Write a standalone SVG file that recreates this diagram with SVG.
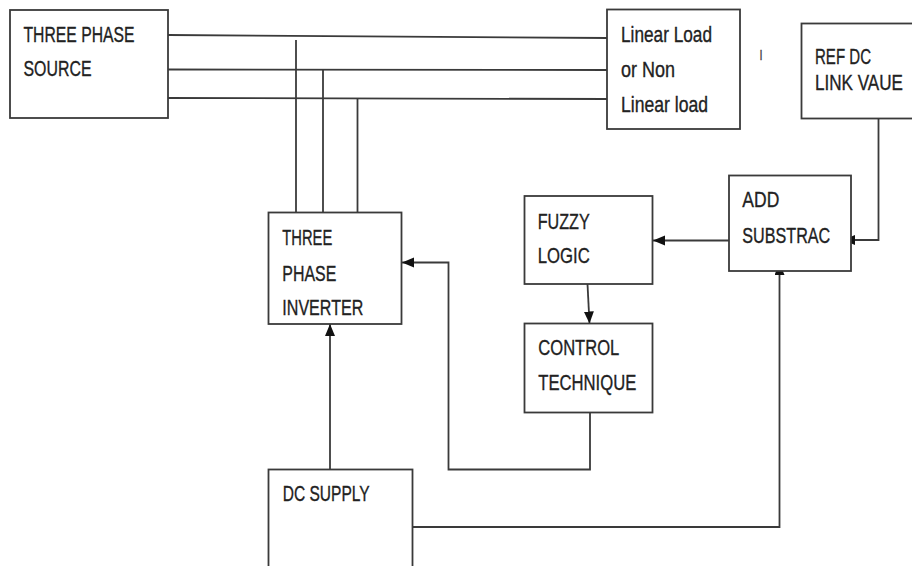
<svg xmlns="http://www.w3.org/2000/svg" width="912" height="566" viewBox="0 0 912 566">
<style>
.box{fill:#fff;stroke:#3a3a3a;stroke-width:1.8}
.ln{fill:none;stroke:#3a3a3a;stroke-width:1.8}
.t{font-family:"Liberation Sans",Arial,sans-serif;font-size:16px;fill:#222;stroke:#222;stroke-width:0.25}
</style>
<defs>
<marker id="ah" markerUnits="userSpaceOnUse" markerWidth="13" markerHeight="11" refX="12" refY="5" orient="auto">
<path d="M0,0 L12,5 L0,10 z" fill="#111"/>
</marker>
</defs>
<rect width="912" height="566" fill="#fff"/>
<g id="connectors">
<path class="ln" d="M168,35 L607,38"/>
<path class="ln" d="M168,69.5 L607,70"/>
<path class="ln" d="M168,98 L607,99"/>
<path class="ln" d="M296,40 V212.5"/>
<path class="ln" d="M323,70 V212.5"/>
<path class="ln" d="M357.5,99 V212.5"/>
<path class="ln" d="M330,469.5 V324" marker-end="url(#ah)"/>
<path class="ln" d="M590,412.5 V469.5 H448.5 V262.5 H402" marker-end="url(#ah)"/>
<path class="ln" d="M729,240.5 H653" marker-end="url(#ah)"/>
<path class="ln" d="M587.5,284 L589.5,323.5" marker-end="url(#ah)"/>
<path class="ln" d="M878.5,118.5 V240 H843" marker-end="url(#ah)"/>
<path class="ln" d="M412.5,527 H779.5 V263" marker-end="url(#ah)"/>
</g>
<g id="source">
<rect class="box" x="10" y="10" width="158" height="108"/>
<text class="t" transform="translate(23.5,41.7) scale(1,1.35)" textLength="111" lengthAdjust="spacingAndGlyphs">THREE PHASE</text>
<text class="t" transform="translate(23.5,76) scale(1,1.35)" textLength="68" lengthAdjust="spacingAndGlyphs">SOURCE</text>
</g>
<g id="load">
<rect class="box" x="607" y="9.5" width="133" height="119.5"/>
<text class="t" transform="translate(621,41.7) scale(1,1.35)" textLength="91" lengthAdjust="spacingAndGlyphs">Linear Load</text>
<text class="t" transform="translate(621,77.3) scale(1,1.35)" textLength="54" lengthAdjust="spacingAndGlyphs">or Non</text>
<text class="t" transform="translate(621,111.7) scale(1,1.35)" textLength="87" lengthAdjust="spacingAndGlyphs">Linear load</text>
</g>
<text class="t" transform="translate(759.5,60) scale(1,1.35)" style="font-size:11px;fill:#444;stroke:#444">I</text>
<g id="refdc">
<rect class="box" x="801.5" y="23.5" width="114" height="95"/>
<text class="t" transform="translate(815,64) scale(1,1.35)" textLength="56" lengthAdjust="spacingAndGlyphs">REF DC</text>
<text class="t" transform="translate(815,90) scale(1,1.35)" textLength="88" lengthAdjust="spacingAndGlyphs">LINK VAUE</text>
</g>
<g id="inverter">
<rect class="box" x="268.5" y="212.5" width="133" height="111.5"/>
<text class="t" transform="translate(282.3,244.5) scale(1,1.35)" textLength="50" lengthAdjust="spacingAndGlyphs">THREE</text>
<text class="t" transform="translate(282.3,280.5) scale(1,1.35)" textLength="54" lengthAdjust="spacingAndGlyphs">PHASE</text>
<text class="t" transform="translate(282.3,315) scale(1,1.35)" textLength="81" lengthAdjust="spacingAndGlyphs">INVERTER</text>
</g>
<g id="fuzzy">
<rect class="box" x="524.5" y="196" width="128" height="88"/>
<text class="t" transform="translate(537.7,229) scale(1,1.35)" textLength="52" lengthAdjust="spacingAndGlyphs">FUZZY</text>
<text class="t" transform="translate(537.7,263) scale(1,1.35)" textLength="52" lengthAdjust="spacingAndGlyphs">LOGIC</text>
</g>
<g id="control">
<rect class="box" x="524.5" y="323.5" width="128" height="89"/>
<text class="t" transform="translate(538.3,355) scale(1,1.35)" textLength="81" lengthAdjust="spacingAndGlyphs">CONTROL</text>
<text class="t" transform="translate(538.3,390) scale(1,1.35)" textLength="98" lengthAdjust="spacingAndGlyphs">TECHNIQUE</text>
</g>
<g id="addsub">
<rect class="box" x="729" y="175.5" width="122" height="95.5"/>
<text class="t" transform="translate(742.3,206.7) scale(1,1.35)" textLength="37" lengthAdjust="spacingAndGlyphs">ADD</text>
<text class="t" transform="translate(742.3,242.7) scale(1,1.35)" textLength="88" lengthAdjust="spacingAndGlyphs">SUBSTRAC</text>
</g>
<g id="dcsupply">
<rect class="box" x="268.5" y="469.5" width="144" height="110"/>
<text class="t" transform="translate(282.7,500.5) scale(1,1.35)" textLength="87" lengthAdjust="spacingAndGlyphs">DC SUPPLY</text>
</g>
</svg>
